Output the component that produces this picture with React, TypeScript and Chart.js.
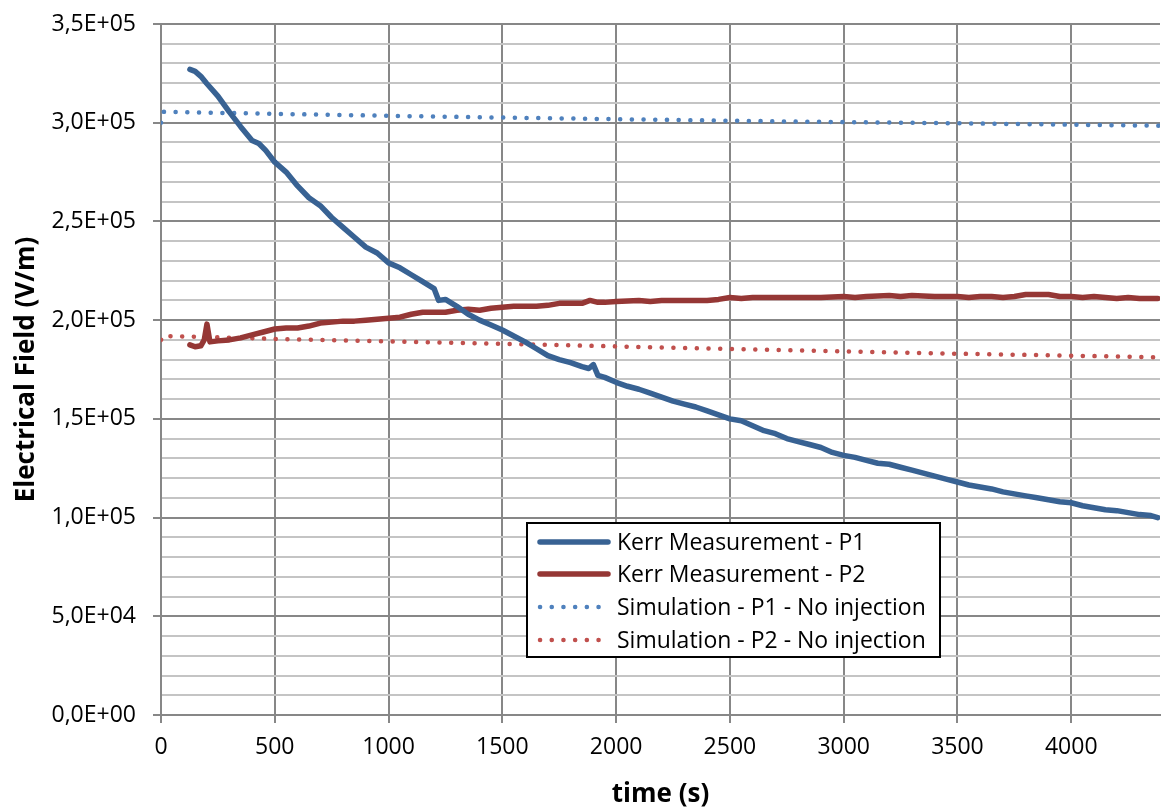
import React, { useEffect, useRef } from "react";
import { Chart, registerables } from "chart.js";

Chart.register(...registerables);

// ---------- data ----------
const kerrP1Time = [127, 150, 175, 200, 250, 300, 350, 400, 430, 460, 500, 550, 600, 650, 700, 750, 800, 850, 900, 950, 1000, 1050, 1100, 1150, 1200, 1220, 1250, 1300, 1350, 1400, 1450, 1500, 1550, 1600, 1650, 1700, 1750, 1800, 1850, 1880, 1900, 1920, 1950, 2000, 2050, 2100, 2150, 2200, 2250, 2300, 2350, 2400, 2450, 2500, 2550, 2600, 2650, 2700, 2750, 2800, 2850, 2900, 2950, 3000, 3050, 3100, 3150, 3200, 3250, 3300, 3350, 3400, 3450, 3500, 3550, 3600, 3650, 3700, 3750, 3800, 3850, 3900, 3950, 4000, 4050, 4100, 4150, 4200, 4250, 4300, 4350, 4380];
const kerrP1Field = [327000, 326000, 323500, 320000, 313500, 305500, 298000, 291000, 289500, 286000, 280000, 275000, 268000, 262000, 258000, 252000, 247000, 242000, 237000, 234000, 229000, 226500, 223000, 219500, 216000, 210000, 210500, 207000, 203000, 200000, 197500, 195000, 192000, 189000, 185500, 182000, 180000, 178500, 176500, 175500, 177500, 172000, 171000, 168500, 166500, 165000, 163000, 161000, 159000, 157500, 156000, 154000, 152000, 150000, 149000, 146500, 144000, 142500, 140000, 138500, 137000, 135500, 133000, 131500, 130500, 129000, 127500, 127000, 125500, 124000, 122500, 121000, 119500, 118000, 116500, 115500, 114500, 113000, 112000, 111000, 110000, 109000, 108000, 107500, 106000, 105000, 104000, 103500, 102500, 101500, 101000, 100000];

const kerrP2Time = [127, 150, 175, 190, 202, 215, 250, 300, 350, 400, 450, 500, 550, 600, 650, 700, 750, 800, 850, 900, 950, 1000, 1050, 1100, 1150, 1200, 1250, 1300, 1350, 1400, 1450, 1500, 1550, 1600, 1650, 1700, 1750, 1800, 1850, 1885, 1920, 1950, 2000, 2100, 2150, 2200, 2300, 2400, 2450, 2500, 2550, 2600, 2700, 2800, 2900, 3000, 3050, 3100, 3200, 3250, 3300, 3400, 3500, 3550, 3600, 3650, 3700, 3750, 3800, 3900, 3950, 4000, 4050, 4100, 4150, 4200, 4250, 4300, 4380];
const kerrP2Field = [187500, 186500, 187000, 190000, 198000, 189000, 189500, 190000, 191000, 192500, 194000, 195500, 196000, 196000, 197000, 198500, 199000, 199500, 199500, 200000, 200500, 201000, 201500, 203000, 204000, 204000, 204000, 205000, 205500, 205000, 206000, 206500, 207000, 207000, 207000, 207500, 208500, 208500, 208500, 210000, 209000, 209000, 209500, 210000, 209500, 210000, 210000, 210000, 210500, 211500, 211000, 211500, 211500, 211500, 211500, 212000, 211500, 212000, 212500, 212000, 212500, 212000, 212000, 211500, 212000, 212000, 211500, 212000, 213000, 213000, 212000, 212000, 211500, 212000, 211500, 211000, 211500, 211000, 211000];

const simTime = [0, 10, 500, 1000, 1500, 2000, 2500, 3000, 3500, 4000, 4390];
const simP1Field = [300000, 305500, 304500, 303500, 302600, 301800, 301000, 300300, 299700, 299000, 298500];
const simP2Field = [190000, 192000, 190500, 189200, 188000, 186700, 185400, 184200, 183000, 182000, 181200];

const seriesLabels = [
  "Kerr Measurement - P1",
  "Kerr Measurement - P2",
  "Simulation - P1 - No injection",
  "Simulation - P2 - No injection",
];

const xTickValues = [0, 500, 1000, 1500, 2000, 2500, 3000, 3500, 4000];
const xMin = 0;
const xMax = 4390;
const yMin = 0;
const yMax = 350000;
const yMinorStep = 10000;
const yMajorStep = 50000;

const xTitle = "time (s)";
const yTitle = "Electrical Field (V/m)";

// ---------- helpers ----------
const toXY = (xs: number[], ys: number[]) => xs.map((x, i) => ({ x, y: ys[i] }));

function fmtSci(v: number): string {
  if (v === 0) return "0,0E+00";
  const exp = Math.floor(Math.log10(Math.abs(v)));
  const mant = v / Math.pow(10, exp);
  const sign = exp < 0 ? "-" : "+";
  return mant.toFixed(1).replace(".", ",") + "E" + sign + String(Math.abs(exp)).padStart(2, "0");
}

const FONT = "'Open Sans', sans-serif";

const legendPlugin = {
  id: "boxLegend",
  afterDraw(chart: any) {
    const ctx = chart.ctx as CanvasRenderingContext2D;
    const left = 527;
    const top = 523;
    const w = 413;
    const h = 134;
    ctx.save();
    ctx.fillStyle = "#ffffff";
    ctx.fillRect(left, top, w, h);
    ctx.lineWidth = 2;
    ctx.strokeStyle = "#000000";
    ctx.strokeRect(left, top, w, h);
    const rows = [542, 574, 607, 640];
    chart.data.datasets.forEach((ds: any, i: number) => {
      const y = rows[i];
      ctx.beginPath();
      ctx.lineWidth = ds.borderWidth;
      ctx.strokeStyle = ds.borderColor;
      ctx.lineCap = "round";
      ctx.setLineDash(ds.borderDash || []);
      ctx.moveTo(540, y);
      ctx.lineTo(608, y);
      ctx.stroke();
      ctx.setLineDash([]);
      ctx.fillStyle = "#000000";
      ctx.font = `23px ${FONT}`;
      ctx.textBaseline = "middle";
      ctx.textAlign = "left";
      ctx.fillText(ds.label, 617, y + 1);
    });
    ctx.restore();
  },
};

export default function App() {
  const ref = useRef<HTMLCanvasElement | null>(null);

  useEffect(() => {
    if (!ref.current) return;
    const dotted = [0.1, 11.6];
    const chart = new Chart(ref.current, {
      type: "line",
      data: {
        datasets: [
          {
            label: seriesLabels[0],
            data: toXY(kerrP1Time, kerrP1Field),
            borderColor: "#386293",
            borderWidth: 5.5,
            pointRadius: 0,
            borderCapStyle: "round",
            borderJoinStyle: "round",
            tension: 0,
          },
          {
            label: seriesLabels[1],
            data: toXY(kerrP2Time, kerrP2Field),
            borderColor: "#953735",
            borderWidth: 5.5,
            pointRadius: 0,
            borderCapStyle: "round",
            borderJoinStyle: "round",
            tension: 0,
          },
          {
            label: seriesLabels[2],
            data: toXY(simTime, simP1Field),
            borderColor: "#4F81BD",
            borderWidth: 4.5,
            borderDash: dotted,
            borderCapStyle: "round",
            pointRadius: 0,
            tension: 0,
          },
          {
            label: seriesLabels[3],
            data: toXY(simTime, simP2Field),
            borderColor: "#C0504D",
            borderWidth: 4.5,
            borderDash: dotted,
            borderCapStyle: "round",
            pointRadius: 0,
            tension: 0,
          },
        ],
      },
      options: {
        responsive: false,
        animation: false,
        parsing: false as any,
        layout: { padding: { left: 0, right: 14, top: 24, bottom: 0 } },
        plugins: {
          legend: { display: false },
          tooltip: { enabled: false },
        },
        scales: {
          x: {
            type: "linear",
            min: xMin,
            max: xMax,
            border: { color: "#878787", width: 2 },
            grid: {
              color: "#878787",
              lineWidth: 2,
              drawTicks: true,
              tickLength: 8,
              tickColor: "#878787",
              tickWidth: 2,
            },
            afterBuildTicks: (s: any) => {
              s.ticks = xTickValues.map((v) => ({ value: v }));
            },
            ticks: {
              autoSkip: false,
              color: "#000",
              font: { family: FONT, size: 23 },
              padding: 11,
              maxRotation: 0,
              callback: (v: any) => String(v),
            },
            title: {
              display: true,
              text: xTitle,
              color: "#000",
              font: { family: FONT, size: 26, weight: "bold" },
              padding: { top: 0, bottom: 2 },
            },
            afterFit: (s: any) => {
              s.height = 97;
              s.paddingLeft = 0;
              s.paddingRight = 0;
            },
          },
          y: {
            type: "linear",
            min: yMin,
            max: yMax,
            border: { color: "#878787", width: 2 },
            grid: {
              color: (c: any) => (c.tick && c.tick.value % yMajorStep === 0 ? "#878787" : "#C4C4C4"),
              lineWidth: 2,
              drawTicks: true,
              tickLength: 8,
              tickColor: (c: any) => (c.tick && c.tick.value % yMajorStep === 0 ? "#878787" : "rgba(0,0,0,0)"),
              tickWidth: 2,
            },
            ticks: {
              stepSize: yMinorStep,
              autoSkip: false,
              color: "#000",
              font: { family: FONT, size: 23 },
              padding: 17,
              callback: (v: any) => (Number(v) % yMajorStep === 0 ? fmtSci(Number(v)) : ""),
            },
            title: {
              display: true,
              text: yTitle,
              color: "#000",
              font: { family: FONT, size: 26, weight: "bold" },
              padding: { top: 11, bottom: 0 },
            },
            afterFit: (s: any) => {
              s.width = 161;
              s.paddingTop = 0;
              s.paddingBottom = 0;
            },
          },
        },
      },
      plugins: [legendPlugin],
    });
    return () => chart.destroy();
  }, []);

  return (
    <div style={{ position: "absolute", left: 0, top: 0, width: 1174, height: 812, background: "#fff" }}>
      <canvas ref={ref} width={1174} height={812} />
    </div>
  );
}
